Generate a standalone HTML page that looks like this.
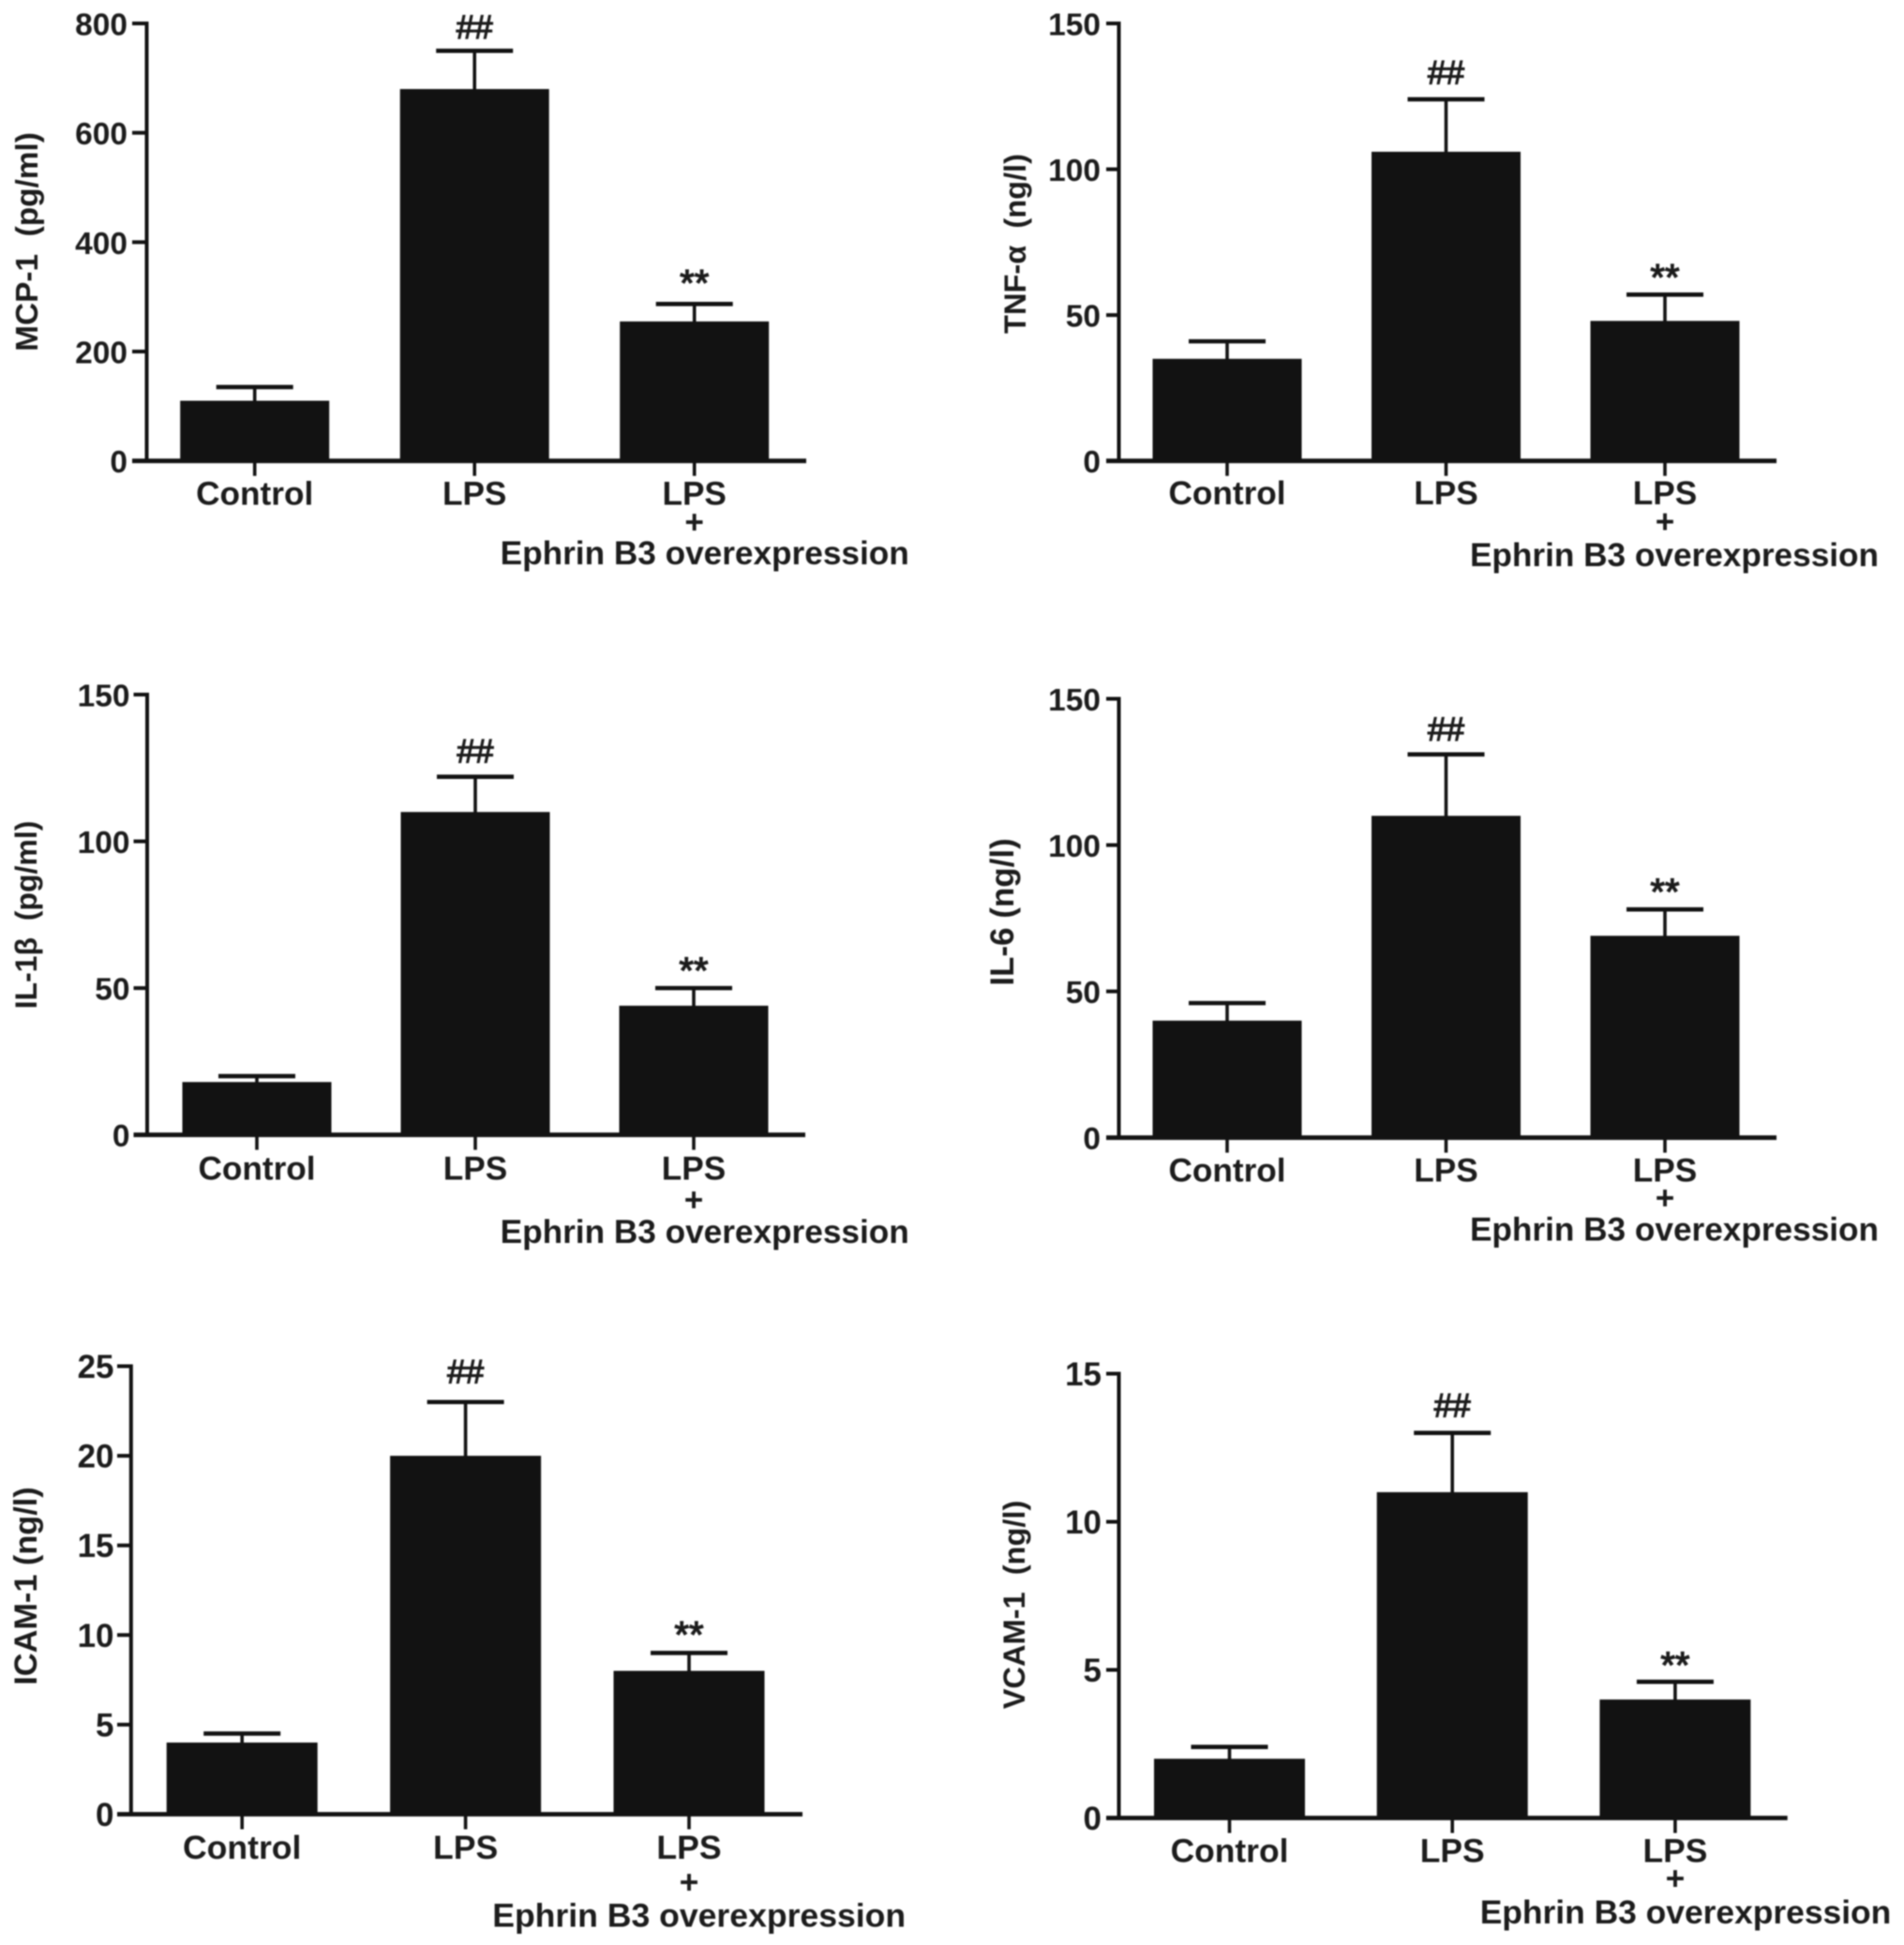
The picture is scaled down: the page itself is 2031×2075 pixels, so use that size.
<!DOCTYPE html>
<html lang="en">
<head>
<meta charset="utf-8">
<title>Ephrin B3 overexpression cytokine bar charts</title>
<style>
html,body{margin:0;padding:0;background:#fff;}
#figure{display:block;filter:blur(0.8px);}
text{font-family:"Liberation Sans",Arial,sans-serif;font-weight:bold;fill:#1c1c1c;white-space:pre;}
</style>
</head>
<body>
<svg id="figure" xmlns="http://www.w3.org/2000/svg" width="2031" height="2075" viewBox="0 0 2031 2075"></svg>
<script>
const categories = ['Control', 'LPS', 'LPS'];
const secondLine = '+';
const thirdLine = 'Ephrin B3 overexpression';
const markers = ['', '##', '**'];

const mcpValues = [110, 680, 255];
const mcpErrorTops = [135, 750, 287];
const mcpTicks = [0, 200, 400, 600, 800];

const tnfValues = [35, 106, 48];
const tnfErrorTops = [41, 124, 57];
const tnfTicks = [0, 50, 100, 150];

const il1Values = [18, 110, 44];
const il1ErrorTops = [20, 122, 50];
const il1Ticks = [0, 50, 100, 150];

const il6Values = [40, 110, 69];
const il6ErrorTops = [46, 131, 78];
const il6Ticks = [0, 50, 100, 150];

const icamValues = [4, 20, 8];
const icamErrorTops = [4.5, 23, 9];
const icamTicks = [0, 5, 10, 15, 20, 25];

const vcamValues = [2, 11, 4];
const vcamErrorTops = [2.4, 13, 4.6];
const vcamTicks = [0, 5, 10, 15];

const svg = document.getElementById('figure');
const NS = 'http://www.w3.org/2000/svg';

function mk(parent, tag, attrs, name, txt) {
  const el = document.createElementNS(NS, tag);
  for (const k in attrs) el.setAttribute(k, attrs[k]);
  
  
  if (txt !== undefined) el.textContent = txt;
  parent.appendChild(el);
  return el;
}

function drawPanel(o) {
  const g = mk(svg, 'g', {}, o.name + '-panel');
  const maxV = o.ticks[o.ticks.length - 1];
  const y = v => o.zero - (v / maxV) * (o.zero - o.top);
  const x = i => o.firstCx + i * o.step;
  const bw = o.barW, dark = '#121212';

  // bars + error bars
  o.values.forEach((v, i) => {
    const cx = x(i), yv = y(v), ye = y(o.errs[i]);
    mk(g, 'line', {x1: cx, x2: cx, y1: ye, y2: yv + 2, stroke: dark, 'stroke-width': 3.6}, o.name + '-error-stem-' + i);
    mk(g, 'line', {x1: cx - 41, x2: cx + 41, y1: ye, y2: ye, stroke: dark, 'stroke-width': 4.6}, o.name + '-error-cap-' + i);
    mk(g, 'rect', {x: cx - bw / 2, y: yv, width: bw, height: o.zero - yv, fill: dark}, o.name + '-bar-' + i);
    if (markers[i]) {
      const isHash = markers[i] === '##';
      const lift = isHash ? o.hashLift : o.starLift;
      mk(g, 'text', {x: cx, y: ye - (isHash ? 15 : 2) - lift, 'text-anchor': 'middle', 'font-size': isHash ? 35 : 40, style: 'font-weight:normal;stroke:#1c1c1c;stroke-width:1.3'}, o.name + '-significance-' + i, markers[i]);
    }
  });

  // axes
  mk(g, 'line', {x1: o.x0, x2: o.x0, y1: o.top - 2, y2: o.zero, stroke: dark, 'stroke-width': 4}, o.name + '-y-axis');
  mk(g, 'line', {x1: o.tickLeft, x2: o.right, y1: o.zero, y2: o.zero, stroke: dark, 'stroke-width': 4.8}, o.name + '-x-axis');

  // y ticks
  o.ticks.forEach(t => {
    const ty = y(t);
    if (t !== 0) {
      mk(g, 'line', {x1: o.tickLeft, x2: o.x0, y1: ty, y2: ty, stroke: dark, 'stroke-width': 4}, o.name + '-y-tick-' + t);
    }
    mk(g, 'text', {x: o.labelRight, y: ty + 12.5, 'text-anchor': 'end', 'font-size': o.tickFont}, o.name + '-y-tick-label-' + t, String(t));
  });

  // x ticks + labels
  categories.forEach((c, i) => {
    const cx = x(i);
    mk(g, 'line', {x1: cx, x2: cx, y1: o.zero, y2: o.zero + 16, stroke: dark, 'stroke-width': 3.6}, o.name + '-x-tick-' + i);
    mk(g, 'text', {x: cx, y: o.catY, 'text-anchor': 'middle', 'font-size': o.catFont}, o.name + '-x-label-' + i, c);
  });
  mk(g, 'text', {x: x(2), y: o.plusY, 'text-anchor': 'middle', 'font-size': o.catFont}, o.name + '-x-label-plus', secondLine);
  mk(g, 'text', {x: o.ephrinCx, y: o.ephrinY, 'text-anchor': 'middle', 'font-size': o.catFont}, o.name + '-x-label-ephrin', thirdLine);

  // y title
  mk(g, 'text', {x: 0, y: 0, 'text-anchor': 'middle', 'font-size': o.titleFont, transform: 'translate(' + o.titleX + ',' + o.titleY + ') rotate(-90)'}, o.name + '-y-axis-title', o.title);
}

drawPanel({name: 'mcp-1', title: 'MCP-1  (pg/ml)', values: mcpValues, errs: mcpErrorTops, ticks: mcpTicks,
  x0: 156.5, top: 25, zero: 491.7, right: 860, tickLeft: 141, labelRight: 136, firstCx: 271.7, step: 234.5, barW: 159,
  tickFont: 33.5, catFont: 35.2, catY: 538.5, plusY: 569, ephrinY: 601.8, ephrinCx: 751.7, titleX: 40, titleY: 258, titleFont: 33.4, hashLift: -2, starLift: 7});

drawPanel({name: 'tnf-alpha', title: 'TNF-\u03B1  (ng/l)', values: tnfValues, errs: tnfErrorTops, ticks: tnfTicks,
  x0: 1193.5, top: 25, zero: 491.7, right: 1895, tickLeft: 1180, labelRight: 1174, firstCx: 1309, step: 233.5, barW: 159,
  tickFont: 33.5, catFont: 35.2, catY: 538.2, plusY: 568.5, ephrinY: 603.8, ephrinCx: 1786, titleX: 1094, titleY: 260, titleFont: 32.6, hashLift: 1.5, starLift: 3});

drawPanel({name: 'il-1-beta', title: 'IL-1\u03B2  (pg/ml)', values: il1Values, errs: il1ErrorTops, ticks: il1Ticks,
  x0: 157, top: 741, zero: 1210.7, right: 859, tickLeft: 142.5, labelRight: 138.5, firstCx: 274, step: 233, barW: 159,
  tickFont: 33.5, catFont: 35.2, catY: 1258.7, plusY: 1292, ephrinY: 1326, ephrinCx: 751.7, titleX: 39, titleY: 976, titleFont: 32, hashLift: 0, starLift: 3});

drawPanel({name: 'il-6', title: 'IL-6 (ng/l)', values: il6Values, errs: il6ErrorTops, ticks: il6Ticks,
  x0: 1193.5, top: 745.5, zero: 1213.7, right: 1895, tickLeft: 1180, labelRight: 1174, firstCx: 1309, step: 233.5, barW: 159,
  tickFont: 33.5, catFont: 35.2, catY: 1260.4, plusY: 1290, ephrinY: 1323.4, ephrinCx: 1786, titleX: 1081, titleY: 973, titleFont: 35, hashLift: 0, starLift: 3});

drawPanel({name: 'icam-1', title: 'ICAM-1 (ng/l)', values: icamValues, errs: icamErrorTops, ticks: icamTicks,
  x0: 139.8, top: 1457.5, zero: 1935.5, right: 856, tickLeft: 125, labelRight: 121.5, firstCx: 258.2, step: 238.4, barW: 161,
  tickFont: 35, catFont: 35.6, catY: 1983.2, plusY: 2020, ephrinY: 2055.4, ephrinCx: 745.7, titleX: 39, titleY: 1692, titleFont: 34.3, hashLift: 5, starLift: 4});

drawPanel({name: 'vcam-1', title: 'VCAM-1  (ng/l)', values: vcamValues, errs: vcamErrorTops, ticks: vcamTicks,
  x0: 1193.5, top: 1465.5, zero: 1939.5, right: 1906.7, tickLeft: 1180, labelRight: 1175, firstCx: 1311.5, step: 237.7, barW: 161,
  tickFont: 35, catFont: 35.4, catY: 1986.6, plusY: 2016, ephrinY: 2052, ephrinCx: 1798, titleX: 1093, titleY: 1712, titleFont: 32.6, hashLift: 2, starLift: 2});
</script>
</body>
</html>
